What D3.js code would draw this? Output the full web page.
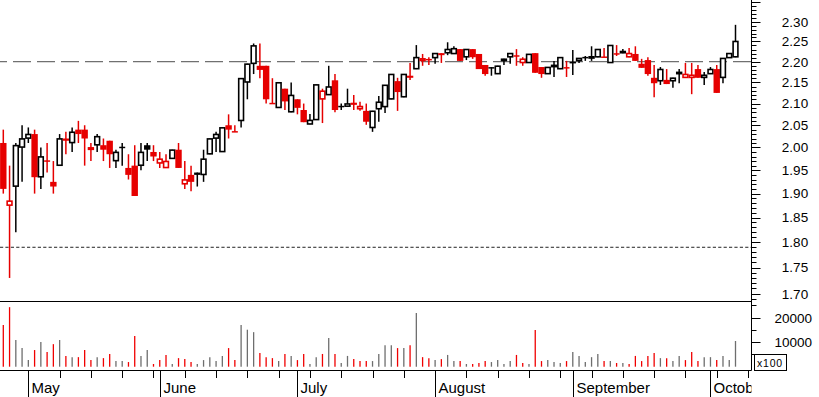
<!DOCTYPE html>
<html><head><meta charset="utf-8">
<script src="https://cdn.jsdelivr.net/npm/d3@7"></script>
<style>
body{margin:0;background:#fff;}
svg{display:block;}
text{font-family:"Liberation Sans",Arial,sans-serif;fill:#000;}
</style>
</head><body>
<svg id="chart" width="819" height="397"></svg>
<script>
// ---------- data ----------
const opens = [2.01,1.875,1.915,2.00,2.02,2.03,1.935,1.97,1.925,1.96,
 2.02,2.01,2.04,2.04,1.995,2.005,2.005,2.015,1.97,2.00,
 1.955,1.96,1.96,2.005,1.99,1.965,1.955,1.975,1.995,1.92,
 1.94,1.945,1.94,1.985,2.02,1.99,2.05,2.035,2.06,2.15,
 2.195,2.19,2.19,2.10,2.09,2.135,2.08,2.11,2.085,2.052,
 2.062,2.11,2.12,2.155,2.093,2.093,2.102,2.087,2.083,2.044,
 2.087,2.092,2.11,2.153,2.115,2.166,2.182,2.202,2.205,2.209,
 2.221,2.221,2.219,2.231,2.211,2.231,2.219,2.192,2.185,2.170,
 2.202,2.211,2.214,2.197,2.197,2.221,2.187,2.170,2.187,2.182,
 2.185,2.1995,2.202,2.210,2.208,2.211,2.211,2.197,2.219,2.221,
 2.211,2.219,2.195,2.204,2.161,2.153,2.156,2.153,2.170,2.161,
 2.161,2.182,2.161,2.170,2.182,2.161,2.209,2.211];
const highs = [2.04,1.96,2.01,2.05,2.045,2.04,2.00,2.01,1.97,2.03,
 2.035,2.045,2.06,2.05,2.01,2.03,2.02,2.015,1.995,2.01,
 1.985,2.005,2.01,2.01,2.005,1.99,1.985,1.995,2.01,1.97,
 1.96,1.945,1.995,2.02,2.035,2.045,2.075,2.05,2.16,2.195,
 2.245,2.245,2.19,2.16,2.15,2.135,2.15,2.11,2.10,2.076,
 2.145,2.135,2.19,2.17,2.10,2.135,2.12,2.104,2.10,2.083,
 2.118,2.144,2.17,2.161,2.17,2.197,2.241,2.219,2.211,2.221,
 2.221,2.248,2.238,2.231,2.231,2.231,2.219,2.192,2.187,2.190,
 2.207,2.221,2.231,2.211,2.219,2.221,2.187,2.187,2.202,2.211,
 2.202,2.229,2.209,2.214,2.238,2.231,2.234,2.241,2.241,2.231,
 2.234,2.238,2.207,2.211,2.192,2.187,2.182,2.161,2.182,2.197,
 2.197,2.192,2.175,2.187,2.192,2.209,2.221,2.292];
const lows = [1.90,1.73,1.82,1.925,2.01,1.90,1.91,1.945,1.90,1.96,
 1.985,1.99,2.01,1.96,1.97,1.99,1.97,1.955,1.955,1.96,
 1.93,1.895,1.95,1.97,1.97,1.955,1.955,1.975,1.955,1.91,
 1.905,1.915,1.925,1.985,1.99,1.99,2.02,2.035,2.045,2.11,
 2.17,2.16,2.10,2.10,2.09,2.085,2.08,2.075,2.057,2.052,
 2.062,2.055,2.12,2.08,2.085,2.093,2.085,2.083,2.051,2.035,
 2.058,2.078,2.11,2.083,2.115,2.156,2.182,2.19,2.192,2.195,
 2.197,2.216,2.219,2.202,2.204,2.207,2.182,2.166,2.166,2.170,
 2.192,2.195,2.190,2.190,2.197,2.173,2.161,2.170,2.163,2.182,
 2.163,2.168,2.197,2.202,2.202,2.211,2.211,2.197,2.214,2.221,
 2.211,2.202,2.185,2.166,2.115,2.144,2.146,2.137,2.148,2.161,
 2.122,2.161,2.144,2.170,2.125,2.148,2.209,2.211];
const closes = [1.91,1.885,2.005,2.02,2.03,1.935,1.98,1.97,1.915,2.02,
 2.015,2.035,2.03,2.02,2.00,2.025,1.995,1.985,1.99,2.00,
 1.94,1.895,1.99,1.995,1.98,1.975,1.97,1.995,1.955,1.93,
 1.925,1.94,1.975,2.02,2.03,2.045,2.04,2.035,2.16,2.195,
 2.24,2.18,2.11,2.10,2.15,2.105,2.12,2.09,2.057,2.062,
 2.145,2.13,2.14,2.085,2.093,2.10,2.097,2.094,2.058,2.083,
 2.104,2.144,2.17,2.127,2.17,2.161,2.211,2.208,2.205,2.221,
 2.216,2.231,2.233,2.202,2.231,2.211,2.182,2.170,2.185,2.190,
 2.207,2.221,2.214,2.207,2.219,2.173,2.170,2.187,2.192,2.211,
 2.185,2.197,2.209,2.210,2.213,2.231,2.211,2.241,2.219,2.226,
 2.221,2.202,2.185,2.170,2.148,2.182,2.146,2.161,2.175,2.170,
 2.168,2.161,2.168,2.182,2.125,2.209,2.221,2.251];
const volumes = [17000,24300,10900,7600,2700,6800,10100,6000,9200,10900,
 4400,3900,3900,6800,2700,3900,3500,5200,2300,2300,
 1900,12500,4400,6800,1100,2700,4800,1100,3500,3100,
 1900,1100,2700,3900,2300,4400,7600,2700,17000,15100,
 14100,5600,3900,3500,2300,5200,4400,2700,5200,1100,
 3900,5200,11700,5200,1500,4400,3100,2300,2300,2300,
 5200,8800,8800,7600,7600,8800,21900,3900,3500,2700,
 3100,4800,2300,2300,1100,1100,1500,2300,1900,2700,
 1100,2300,4800,1500,1100,15000,2300,2700,1900,1500,
 2300,6000,4400,1900,3900,5200,2300,2300,1500,1500,
 1100,4400,2300,4400,5600,3500,3500,2300,4400,2700,
 6000,2300,3900,3900,2700,4400,2700,10500];
const closeBeforeFirst = 1.95;
const monthLabels = ["May","June","July","August","September","October"];
const monthStartIndex = [4,25,47,69,91,113];
const priceLabels = [2.30,2.25,2.20,2.15,2.10,2.05,2.00,1.95,1.90,1.85,1.80,1.75,1.70];
const volumeLabels = [10000,20000];
const volumeUnitLabel = "x100";
const dashedLevel = 2.20;
const dottedLevel = 1.79;

// ---------- layout ----------
const W = 819, H = 397;
const axisX = 751.5;
const priceBottom = 301.5, axisY = 370.5;
const RED = "#e60000", BLACK = "#000", GREY = "#6e6e6e";

const svg = d3.select("#chart");
const n = closes.length;
const x = d3.scaleLinear().domain([0, n - 1]).range([3.3, 735.5]);
const y = d3.scaleLog().domain([1.70, 2.30]).range([293.7, 21.7]);
const yv = d3.scaleLinear().domain([0, 25000]).range([366.7, 305.45]);

const bars = closes.map((c, i) => ({
  i, o: opens[i], h: highs[i], l: lows[i], c, v: volumes[i],
  down: c < (i === 0 ? closeBeforeFirst : closes[i - 1])
}));

// reference lines
svg.append("line").attr("x1", 0).attr("x2", axisX).attr("y1", y(dashedLevel)).attr("y2", y(dashedLevel))
  .attr("stroke", "#707070").attr("stroke-width", 1.3).attr("stroke-dasharray", "18,6").attr("stroke-dashoffset", 11);
svg.append("line").attr("x1", 0).attr("x2", axisX).attr("y1", y(dottedLevel)).attr("y2", y(dottedLevel))
  .attr("stroke", "#222").attr("stroke-width", 1).attr("stroke-dasharray", "3.2,2.2");

// candles
const cg = svg.append("g");
bars.forEach(b => {
  const col = b.down ? RED : BLACK;
  const cx = x(b.i);
  cg.append("line").attr("x1", cx).attr("x2", cx).attr("y1", y(b.h)).attr("y2", y(b.l))
    .attr("stroke", col).attr("stroke-width", 1.5);
  const top = y(Math.max(b.o, b.c)), bot = y(Math.min(b.o, b.c));
  if (Math.abs(b.c - b.o) < 1e-9) {
    cg.append("line").attr("x1", cx - 3).attr("x2", cx + 3).attr("y1", top).attr("y2", top)
      .attr("stroke", col).attr("stroke-width", 1.5);
  } else if (b.c > b.o) {
    cg.append("rect").attr("x", cx - 2.4).attr("width", 4.8).attr("y", top + 0.4)
      .attr("height", Math.max(0.8, bot - top - 0.8))
      .attr("fill", "#fff").attr("stroke", col).attr("stroke-width", 1.6);
  } else {
    cg.append("rect").attr("x", cx - 3.2).attr("width", 6.4).attr("y", top)
      .attr("height", Math.max(1.5, bot - top)).attr("fill", col);
  }
});

// volume bars
svg.append("g").selectAll("line").data(bars).join("line")
  .attr("x1", d => x(d.i)).attr("x2", d => x(d.i))
  .attr("y1", yv(0)).attr("y2", d => yv(d.v))
  .attr("stroke", d => d.down ? "#f00000" : GREY).attr("stroke-width", 1.3);

// frame lines
svg.append("line").attr("x1", 0).attr("x2", axisX).attr("y1", priceBottom).attr("y2", priceBottom).attr("stroke", "#000");
svg.append("line").attr("x1", 0).attr("x2", axisX).attr("y1", axisY).attr("y2", axisY).attr("stroke", "#000");
svg.append("line").attr("x1", axisX).attr("x2", axisX).attr("y1", 0).attr("y2", axisY).attr("stroke", "#000");

// price axis ticks
const pticks = d3.range(169, 236).map(k => k / 100);
const pg = svg.append("g");
pticks.forEach(p => {
  const yy = Math.round(y(p)) + 0.5;
  if (yy > priceBottom) return;
  const major = Math.abs(p * 20 - Math.round(p * 20)) < 1e-6;
  pg.append("line").attr("x1", axisX).attr("x2", axisX + (major ? 9 : 5)).attr("y1", yy).attr("y2", yy)
    .attr("stroke", "#000").attr("stroke-width", 1);
});
pg.selectAll("text").data(priceLabels).join("text")
  .attr("x", 795).attr("y", d => y(d)).attr("dy", "0.36em")
  .attr("text-anchor", "middle").attr("font-size", 13.5)
  .text(d => d.toFixed(2));

// volume axis ticks
const vg = svg.append("g");
d3.range(5000, 25001, 5000).forEach(v => {
  const major = v % 10000 === 0;
  const yy = Math.round(yv(v)) + 0.5;
  vg.append("line").attr("x1", axisX).attr("x2", axisX + (major ? 9 : 5)).attr("y1", yy).attr("y2", yy).attr("stroke", "#000");
});
vg.selectAll("text").data(volumeLabels).join("text")
  .attr("x", 812).attr("y", d => yv(d)).attr("dy", "0.36em")
  .attr("text-anchor", "end").attr("font-size", 13.5)
  .text(d => d3.format("d")(d));
// unit box
vg.append("rect").attr("x", 754.5).attr("y", 354.5).attr("width", 32).attr("height", 16)
  .attr("fill", "none").attr("stroke", "#000");
vg.append("text").attr("x", 757).attr("y", 367).attr("font-size", 10.5).attr("letter-spacing", 0.8).text(volumeUnitLabel);

// time axis
const tg = svg.append("g");
d3.range(4, 120, 5).forEach(i => {
  const xx = Math.round(x(i)) + 0.5;
  const isMonth = monthStartIndex.includes(i);
  tg.append("line").attr("x1", xx).attr("x2", xx).attr("y1", axisY).attr("y2", isMonth ? H : 378).attr("stroke", "#000");
});
monthStartIndex.forEach(i => {
  if (i % 5 === 4) return;
  const xx = Math.round(x(i)) + 0.5;
  tg.append("line").attr("x1", xx).attr("x2", xx).attr("y1", axisY).attr("y2", H).attr("stroke", "#000");
});
svg.append("clipPath").attr("id", "lblclip").append("rect").attr("x", 0).attr("y", 370).attr("width", axisX).attr("height", 30);
tg.append("g").attr("clip-path", "url(#lblclip)").selectAll("text").data(monthLabels).join("text")
  .attr("x", (d, k) => Math.round(x(monthStartIndex[k])) + 3.5).attr("y", 393)
  .attr("font-size", 15).text(d => d);
</script>
</body></html>
